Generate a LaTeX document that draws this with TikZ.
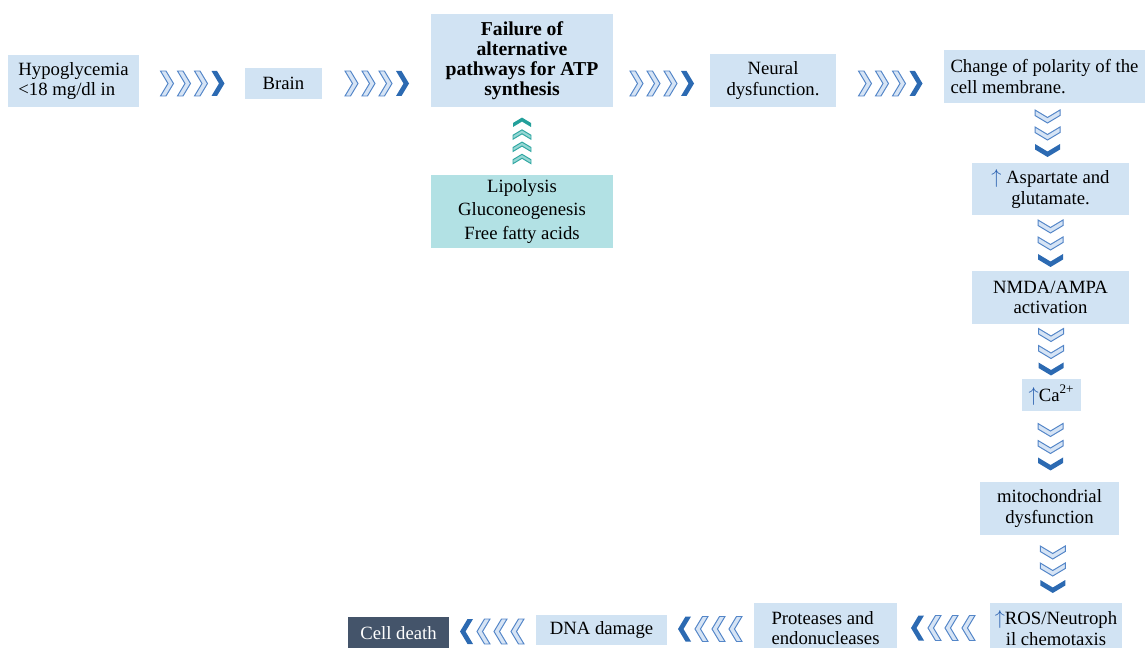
\documentclass[tikz,border=0pt]{standalone}
\usepackage{fontspec}
\setmainfont{Liberation Serif}
\usepackage{xcolor}
\definecolor{myboxblue}{RGB}{209,227,243}
\definecolor{mylipo}{RGB}{178,225,228}
\definecolor{myslate}{RGB}{68,84,106}
\definecolor{mychevline}{RGB}{84,134,200}
\definecolor{mychevfill}{RGB}{214,228,245}
\definecolor{mychevdark}{RGB}{44,106,178}
\definecolor{mytealline}{RGB}{50,168,163}
\definecolor{mytealfill}{RGB}{150,215,212}
\definecolor{mytealdark}{RGB}{35,160,155}
\definecolor{myarrowblue}{RGB}{40,95,175}
\usepackage{tikz}
\usetikzlibrary{calc,positioning}

\newcommand{\myup}{{\color{myarrowblue}$\uparrow$}}

\tikzset{
  chevlight/.style={draw=#1line, fill=#1fill, line width=0.7pt},
  chevdark/.style={fill=#1dark},
  pics/chevs/.style args={#1/#2}{code={
    \foreach \k in {1,...,#1} {
      \ifnum\k<#1\relax
        \path[chevlight=#2, shift={({(\k-(#1+1)/2)*17},0)}]
          (-6,12.5) -- (-0.5,12.5) -- (7,0) -- (-0.5,-12.5) -- (-6,-12.5) -- (1.5,0) -- cycle;
      \else
        \path[chevdark=#2, shift={({(\k-(#1+1)/2)*17},0)}]
          (-6,12.5) -- (-0.5,12.5) -- (7,0) -- (-0.5,-12.5) -- (-6,-12.5) -- (1.5,0) -- cycle;
      \fi
    }
  }}
}

\begin{document}
\begin{tikzpicture}[
  x=0.025cm, y=-0.025cm,
  mysize/.style 2 args={minimum width=#1*0.025cm, minimum height=#2*0.025cm},
  myrect/.style={
    fill=myboxblue,
    inner sep=1pt,
    font=\fontsize{13.3}{14.5}\selectfont,
    align=center
  }
]
\useasboundingbox (0,0) rectangle (1145,648);

% top row
\node [myrect, mysize={131}{52}, align=left] (hypo) at (73.5,81) {Hypoglycemia\\<18 mg/dl in};
\node [myrect, mysize={77}{31}] (brain) at (283.5,83.5) {Brain};
\node [myrect, mysize={182}{93}, font=\bfseries\fontsize{14}{14.2}\selectfont] (fail) at (522,60.5)
  {Failure of\\alternative\\pathways for ATP\\synthesis};
\node [myrect, fill=mylipo, mysize={182}{73}, font=\fontsize{13.3}{16.4}\selectfont] (lipo) at (522,211.5)
  {Lipolysis\\Gluconeogenesis\\Free fatty acids};
\node [myrect, mysize={126}{53}] (neural) at (773,80.5) {Neural\\dysfunction.};
\node [myrect, mysize={201}{53}, align=left] (change) at (1044.5,76.5) {Change of polarity of the\\cell membrane.};

% right column
\node [myrect, mysize={157}{52}] (asp) at (1050.5,189) {\myup\ Aspartate and\\glutamate.};
\node [myrect, mysize={157}{53}] (nmda) at (1050.5,297.5) {NMDA/AMPA\\activation};
\node [myrect, mysize={59}{32}] (ca) at (1051.5,395) {\myup Ca\textsuperscript{2+}};
\node [myrect, mysize={139}{53}] (mito) at (1049.5,508.5) {mitochondrial\\dysfunction};
\node [myrect, mysize={132}{50}] (ros) at (1056,628) {\myup ROS/Neutroph\\il chemotaxis};

% bottom row
\node [myrect, mysize={143}{50}, align=left] (prot) at (825.5,628) {Proteases and\\endonucleases};
\node [myrect, mysize={131}{30}] (dna) at (601.5,630) {DNA damage};
\node [myrect, fill=myslate, text=white, mysize={101}{32}] (death) at (398.5,633) {Cell death};

% chevron connectors
\pic at ($(hypo.east |- brain)!0.5!(brain.west)$) {chevs=4/mychev};
\pic at ($(brain.east)!0.5!(fail.west |- brain)$) {chevs=4/mychev};
\pic at ($(fail.east |- brain)!0.5!(neural.west |- brain)$) {chevs=4/mychev};
\pic at ($(neural.east |- brain)!0.5!(change.west |- brain)$) {chevs=4/mychev};
\pic [rotate=90, scale=0.72] at ($(lipo.north)!0.5!(fail.south)$) {chevs=4/myteal};

\pic [rotate=-90] at ($(change.south)!0.5!(asp.north)$) {chevs=3/mychev};
\pic [rotate=-90] at ($(asp.south)!0.5!(nmda.north)$) {chevs=3/mychev};
\pic [rotate=-90] at ($(nmda.south)!0.5!(ca.north)$) {chevs=3/mychev};
\pic [rotate=-90] at ($(ca.south)!0.5!(mito.north)$) {chevs=3/mychev};
\pic [rotate=-90] at ($(mito.south)!0.5!(ros.north)$) {chevs=3/mychev};

\pic [rotate=180] at ($(prot.east)!0.5!(ros.west)$) {chevs=4/mychev};
\pic [rotate=180] at ($(dna.east)!0.5!(prot.west)$) {chevs=4/mychev};
\pic [rotate=180] at ($(death.east)!0.5!(dna.west)$) {chevs=4/mychev};

\end{tikzpicture}
\end{document}
